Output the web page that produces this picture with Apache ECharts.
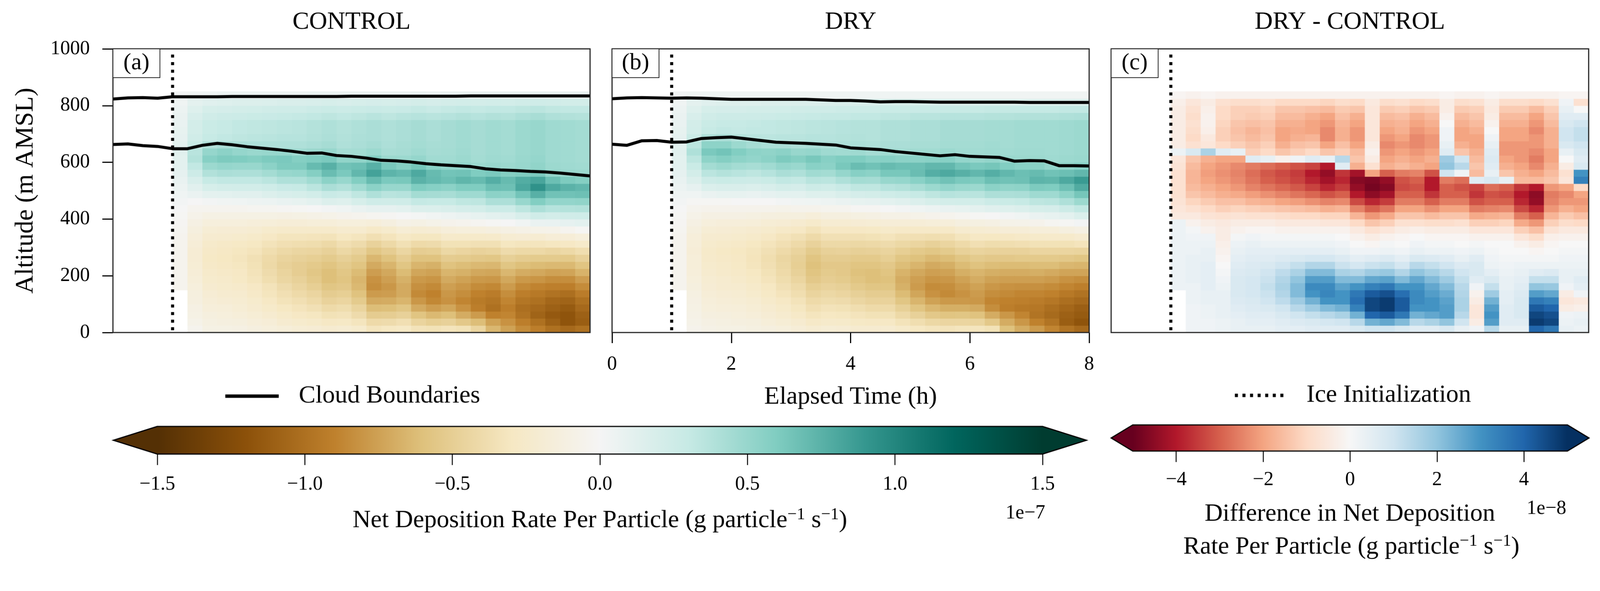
<!DOCTYPE html>
<html><head><meta charset="utf-8">
<script src="https://cdn.jsdelivr.net/npm/echarts@6/dist/echarts.min.js"></script>
<style>html,body{margin:0;padding:0;background:#fff;overflow:hidden}#c{width:4222px;height:1514px;transform-origin:0 0}</style>
</head><body><div id="c"></div>
<script>
// ---- grid of the field (bin centres) ----
const timeBins = [1.125,1.375,1.625,1.875,2.125,2.375,2.625,2.875,3.125,3.375,3.625,3.875,4.125,4.375,4.625,4.875,5.125,5.375,5.625,5.875,6.125,6.375,6.625,6.875,7.125,7.375,7.625,7.875];
const altBins = [12.5,37.5,62.5,87.5,112.5,137.5,162.5,187.5,212.5,237.5,262.5,287.5,312.5,337.5,362.5,387.5,412.5,437.5,462.5,487.5,512.5,537.5,562.5,587.5,612.5,637.5,662.5,687.5,712.5,737.5,762.5,787.5,812.5,837.5];

// ---- CONTROL net deposition rate (units 1e-9 g/particle/s), one array per time bin, bottom -> top ----
const controlCols = [
[null,null,null,null,null,null,-5,-5,-5,-5,-5,-5,-5,-4,-3,-2,-1,0,2,4,6,8,10,12,12,13,12,10,9,8,7,6,4,2],
[-5,-8,-10,-11,-13,-14,-15,-17,-18,-19,-20,-20,-18,-16,-14,-11,-7,-4,0,7,13,19,26,32,38,36,28,24,22,22,19,15,11,3],
[-10,-12,-14,-16,-18,-20,-22,-24,-25,-27,-28,-27,-25,-22,-19,-15,-10,-4,2,11,20,30,39,48,57,51,39,30,28,28,24,20,14,4],
[-10,-13,-15,-17,-20,-22,-24,-25,-27,-29,-30,-29,-27,-23,-20,-15,-10,-4,3,12,22,32,42,51,61,55,42,32,30,30,26,21,15,5],
[-11,-14,-17,-19,-21,-23,-25,-28,-29,-31,-32,-31,-28,-24,-20,-15,-10,-4,4,13,23,32,41,50,60,51,41,34,32,32,27,22,16,5],
[-13,-16,-19,-22,-24,-27,-29,-32,-34,-35,-36,-33,-30,-26,-21,-16,-10,-3,5,13,23,32,41,50,58,49,40,35,33,33,28,23,16,5],
[-15,-18,-22,-26,-29,-32,-34,-38,-40,-42,-41,-38,-34,-29,-24,-17,-10,-3,6,16,25,35,45,55,61,50,40,36,34,34,29,24,17,5],
[-17,-22,-26,-30,-34,-37,-40,-44,-46,-48,-46,-42,-37,-32,-25,-18,-11,-2,8,19,29,40,50,61,62,50,40,37,35,35,30,25,18,5],
[-19,-24,-29,-33,-37,-41,-45,-48,-51,-51,-48,-44,-38,-32,-25,-18,-10,-1,9,20,30,40,51,61,58,46,40,37,36,36,31,25,18,5],
[-20,-26,-31,-36,-41,-45,-50,-54,-56,-54,-50,-45,-39,-33,-25,-17,-9,0,12,23,35,46,58,70,60,48,42,39,38,38,32,27,19,6],
[-22,-29,-35,-41,-47,-52,-57,-61,-61,-58,-53,-48,-42,-34,-25,-17,-8,2,16,29,42,55,69,76,62,50,44,41,40,40,34,28,20,6],
[-21,-28,-34,-39,-45,-50,-55,-58,-56,-53,-49,-43,-37,-30,-23,-15,-6,4,15,27,39,50,62,66,53,44,40,39,38,38,32,27,19,6],
[-24,-32,-40,-46,-53,-59,-64,-66,-63,-58,-53,-47,-40,-32,-23,-15,-5,7,20,33,46,59,72,68,53,45,42,41,40,40,34,28,20,6],
[-32,-41,-52,-62,-71,-78,-84,-82,-77,-71,-65,-56,-47,-37,-27,-16,-3,10,25,40,55,70,84,76,58,48,44,42,42,42,36,29,21,6],
[-30,-40,-51,-61,-70,-77,-80,-76,-72,-66,-59,-51,-42,-33,-24,-13,-2,10,24,36,50,62,74,63,48,43,41,40,40,40,34,28,20,6],
[-28,-37,-48,-57,-66,-71,-71,-68,-63,-57,-51,-44,-36,-28,-19,-9,0,12,25,37,50,63,71,58,48,44,43,42,42,42,36,29,21,6],
[-34,-46,-58,-71,-80,-86,-83,-79,-73,-66,-59,-51,-41,-31,-21,-10,1,16,31,45,60,75,80,64,51,47,45,44,44,44,37,31,22,7],
[-35,-50,-64,-77,-87,-90,-86,-81,-75,-68,-59,-50,-40,-31,-20,-8,3,17,30,44,57,71,70,56,46,44,43,42,42,42,36,29,21,6],
[-33,-48,-61,-73,-82,-80,-76,-71,-66,-59,-52,-43,-35,-25,-16,-6,5,18,30,43,55,68,65,52,46,45,44,44,44,44,37,31,22,7],
[-35,-55,-70,-82,-88,-84,-80,-75,-68,-62,-53,-45,-35,-26,-15,-5,7,21,33,47,60,73,66,52,48,47,46,46,46,46,39,32,23,7],
[-45,-62,-78,-92,-94,-90,-85,-79,-72,-64,-55,-47,-36,-26,-15,-3,9,22,34,47,60,70,60,48,45,44,44,44,44,44,37,31,22,7],
[-65,-75,-90,-100,-97,-93,-87,-80,-73,-65,-56,-46,-36,-25,-13,-1,12,27,41,55,68,77,62,50,47,46,46,46,46,46,39,32,23,7],
[-75,-82,-88,-92,-88,-84,-78,-72,-65,-57,-49,-40,-31,-21,-11,0,14,27,41,54,67,70,58,48,46,45,45,45,45,45,38,32,23,7],
[-85,-92,-99,-101,-97,-92,-86,-79,-70,-61,-52,-42,-32,-20,-9,3,19,34,50,65,81,78,60,50,49,48,48,48,48,48,41,34,24,7],
[-92,-100,-108,-105,-100,-95,-89,-81,-72,-63,-53,-42,-32,-21,-8,7,24,41,59,76,93,82,62,53,51,50,50,50,50,50,43,35,25,8],
[-100,-110,-115,-110,-106,-99,-91,-84,-75,-64,-53,-44,-31,-18,-7,8,22,37,52,66,80,68,52,48,47,47,47,47,47,47,40,33,24,7],
[-105,-118,-118,-114,-108,-101,-92,-84,-74,-64,-54,-42,-29,-18,-4,10,24,38,52,66,75,61,49,47,46,46,46,46,46,46,39,32,23,7],
[-100,-112,-110,-105,-100,-93,-85,-77,-67,-58,-48,-38,-26,-15,-1,12,25,39,53,67,72,58,48,46,45,45,45,45,45,45,38,32,23,7]
];

// ---- DRY net deposition rate (units 1e-9) ----
const dryCols = [
[null,null,null,null,null,null,-5,-5,-5,-5,-5,-5,-5,-4,-3,-2,-1,0,2,4,6,8,10,12,12,13,12,10,9,8,7,6,4,2],
[-6,-8,-9,-10,-11,-12,-14,-15,-16,-17,-17,-18,-17,-16,-14,-11,-8,-5,-1,4,10,16,22,28,34,40,35,28,23,22,19,15,11,3],
[-9,-11,-13,-15,-16,-18,-20,-21,-23,-24,-25,-26,-24,-22,-19,-15,-11,-6,-1,7,17,26,35,45,54,62,54,40,30,28,24,20,14,4],
[-10,-12,-14,-16,-18,-20,-22,-23,-25,-26,-27,-28,-26,-23,-20,-16,-11,-6,-1,9,18,28,38,48,58,65,54,42,32,30,26,21,15,4],
[-10,-13,-15,-17,-19,-21,-23,-25,-27,-28,-29,-30,-27,-24,-21,-16,-11,-6,0,9,18,27,36,45,54,59,48,38,31,30,26,21,15,4],
[-12,-14,-17,-19,-21,-24,-26,-28,-30,-32,-33,-32,-30,-26,-22,-17,-12,-6,0,8,17,26,34,43,52,54,44,36,32,31,26,22,15,4],
[-13,-17,-20,-22,-25,-28,-30,-33,-35,-37,-38,-36,-33,-29,-24,-19,-13,-6,0,10,19,28,37,46,55,53,42,35,32,32,27,22,16,4],
[-15,-19,-23,-26,-29,-33,-36,-39,-41,-43,-44,-41,-37,-33,-27,-20,-14,-7,2,12,22,32,42,51,61,55,42,36,33,33,28,23,16,4],
[-18,-22,-27,-31,-34,-38,-41,-45,-48,-50,-49,-46,-41,-36,-29,-22,-14,-6,3,12,21,31,40,49,58,50,40,36,34,34,29,24,17,4],
[-21,-27,-32,-37,-41,-46,-50,-55,-58,-60,-58,-53,-47,-41,-34,-25,-16,-6,4,15,26,36,46,56,63,51,42,37,35,35,30,25,17,4],
[-19,-25,-30,-34,-39,-43,-47,-51,-53,-55,-52,-48,-42,-36,-29,-21,-13,-5,5,15,25,35,45,55,57,47,40,37,36,36,31,25,18,4],
[-20,-26,-31,-35,-40,-45,-49,-53,-55,-55,-52,-47,-42,-36,-29,-21,-13,-4,7,18,29,40,51,63,60,46,40,38,37,37,31,26,18,4],
[-22,-28,-33,-38,-44,-49,-54,-58,-60,-58,-54,-49,-43,-36,-29,-20,-12,-2,9,21,33,45,57,69,60,47,41,39,38,38,32,27,19,4],
[-22,-29,-35,-41,-47,-52,-57,-61,-61,-58,-54,-48,-42,-35,-28,-19,-11,-2,10,22,33,44,55,66,56,44,40,38,38,38,32,27,19,4],
[-22,-29,-35,-41,-47,-52,-57,-60,-58,-55,-50,-46,-40,-33,-26,-18,-9,0,12,25,37,50,63,70,57,46,42,40,40,40,34,28,20,4],
[-26,-34,-42,-49,-57,-63,-68,-70,-67,-62,-57,-50,-43,-36,-27,-18,-9,2,14,27,39,51,63,68,55,45,42,40,40,40,34,28,20,4],
[-30,-38,-48,-58,-66,-73,-78,-76,-72,-66,-60,-54,-45,-37,-27,-18,-8,4,17,30,43,56,69,68,55,46,43,42,42,42,36,29,20,4],
[-32,-43,-55,-65,-75,-82,-85,-81,-76,-71,-64,-56,-48,-38,-27,-17,-6,6,20,34,48,62,77,72,56,46,43,42,42,42,36,29,19,4],
[-34,-45,-58,-69,-79,-86,-84,-80,-75,-69,-62,-53,-45,-37,-27,-16,-5,8,22,37,52,66,80,72,57,48,45,44,44,44,37,30,19,4],
[-32,-45,-57,-69,-79,-82,-79,-75,-69,-63,-57,-48,-41,-32,-23,-13,-3,9,23,36,49,62,76,65,52,46,45,44,44,44,37,30,18,4],
[-32,-46,-59,-71,-80,-78,-75,-70,-66,-59,-53,-46,-37,-29,-21,-12,-1,11,23,36,48,61,72,62,50,46,45,44,44,44,37,30,17,4],
[-35,-55,-70,-84,-88,-84,-80,-75,-69,-62,-55,-47,-39,-30,-20,-11,0,14,27,41,55,68,77,64,52,47,46,45,45,45,38,31,17,4],
[-60,-70,-80,-92,-90,-86,-82,-76,-70,-63,-55,-47,-38,-29,-18,-8,2,15,28,41,53,66,72,59,49,46,45,45,45,45,38,31,16,3],
[-70,-80,-88,-95,-91,-88,-83,-76,-70,-63,-54,-47,-37,-27,-18,-7,4,17,30,42,54,67,68,56,48,47,46,46,46,46,39,31,16,3],
[-78,-90,-98,-96,-93,-88,-83,-76,-69,-62,-54,-45,-35,-26,-16,-6,7,20,34,47,61,74,70,56,48,47,46,46,46,46,39,31,16,3],
[-88,-98,-104,-101,-96,-90,-85,-78,-71,-62,-54,-45,-35,-25,-16,-3,9,21,35,47,60,73,66,52,47,46,46,46,46,46,39,31,16,3],
[-98,-112,-110,-106,-101,-95,-88,-82,-74,-65,-55,-45,-35,-25,-13,-1,12,26,40,54,67,80,68,53,48,47,47,47,47,47,40,32,16,3],
[-105,-118,-114,-111,-105,-99,-91,-84,-74,-66,-57,-46,-33,-22,-11,2,17,32,48,64,79,88,72,56,49,48,48,48,48,48,41,32,16,3]
];

// ---- DRY - CONTROL difference (units 1e-9) ----
const diffCols = [
[null,null,null,null,null,null,3,3,3,3,3,3,3,3,3,3,-5,-6,-7,-8,-8,-8,-8,-7,-6,3,-4,-4,-4,-4,-4,-4,-3,-1],
[2,2,2,2,3,3,3,4,4,4,4,3,3,2,1,-2,-5,-8,-11,-14,-16,-17,-17,-16,-14,8,-8,-10,-9,-8,-9,-8,-6,-2],
[2,2,3,3,4,4,5,5,5,5,4,4,3,2,-2,-4,-7,-10,-13,-16,-18,-20,-21,-20,-18,16,-6,-5,-3,-2,-2,-3,-4,-1],
[3,3,4,4,4,4,3,2,1,0,-1,-2,-3,-4,-4,-5,-8,-12,-15,-18,-20,-22,-23,-22,-20,6,-10,-12,-12,-11,-10,-10,-8,-2],
[4,4,5,6,7,8,8,8,7,6,5,4,3,1,-2,-4,-7,-11,-15,-19,-22,-24,-25,-24,-20,4,-12,-14,-15,-14,-12,-12,-9,-2],
[4,5,6,7,8,9,9,9,8,7,6,5,4,2,-1,-4,-8,-12,-17,-21,-25,-27,-28,-26,6,-12,-14,-16,-17,-15,-13,-12,-9,-2],
[4,5,6,8,10,11,12,11,10,8,6,5,3,1,-1,-4,-8,-13,-18,-23,-27,-30,-31,-28,4,-10,-12,-14,-15,-14,-12,-11,-8,-2],
[5,6,8,10,13,15,16,15,13,10,7,5,3,1,-2,-5,-9,-14,-20,-25,-29,-32,-33,-30,-2,-14,-18,-20,-20,-18,-16,-14,-10,-2],
[5,7,10,14,18,22,22,20,16,12,8,5,3,1,-2,-5,-10,-15,-21,-27,-31,-34,-35,-32,2,-12,-15,-18,-19,-18,-16,-14,-10,-2],
[6,8,12,18,24,30,32,28,22,15,9,5,3,1,-2,-5,-10,-16,-23,-29,-34,-38,-40,-34,6,-10,-14,-17,-20,-20,-18,-15,-10,-2],
[6,9,14,22,30,33,32,28,22,15,9,5,3,1,-2,-6,-11,-18,-25,-32,-38,-42,-44,-40,4,-14,-20,-24,-24,-22,-20,-16,-11,-2],
[6,10,16,24,30,30,27,22,16,11,7,4,2,0,-2,-6,-11,-17,-24,-30,-35,-38,-36,6,14,-12,-15,-18,-18,-17,-15,-13,-9,-2],
[8,14,24,34,38,36,30,22,15,9,5,2,0,-2,-5,-10,-17,-25,-33,-40,-44,-46,-42,-18,-14,-16,-20,-22,-22,-20,-18,-14,-10,-2],
[10,24,40,46,46,42,34,26,18,11,6,2,-1,-4,-8,-14,-22,-30,-38,-45,-48,-47,-20,-8,-4,-2,-4,-6,-6,-6,-6,-6,-5,-2],
[10,26,42,48,48,44,36,27,19,12,7,3,1,-2,-6,-12,-19,-27,-35,-42,-46,-44,-30,-18,-20,-22,-24,-22,-20,-18,-16,-13,-9,-2],
[8,22,36,42,42,38,30,22,15,9,5,2,0,-1,-4,-8,-14,-20,-26,-30,-33,-32,-26,-16,-18,-20,-22,-20,-18,-17,-15,-12,-8,-2],
[6,14,24,30,32,32,30,26,20,14,8,4,2,0,-3,-8,-14,-20,-26,-30,-32,-30,-25,-18,-20,-22,-24,-24,-22,-20,-18,-14,-10,-2],
[6,16,26,30,30,28,26,22,17,12,7,3,1,-1,-4,-9,-16,-23,-30,-36,-40,-40,-32,-20,-18,-20,-22,-22,-20,-18,-16,-13,-9,-2],
[8,20,28,28,27,25,22,18,14,10,6,3,1,-1,-4,-9,-14,-20,-26,-30,-30,-26,10,20,18,6,4,2,2,0,-2,-4,-4,-1],
[4,10,14,16,16,15,14,12,10,7,4,2,0,-1,-4,-8,-14,-20,-26,-30,-32,-28,2,14,10,-14,-18,-20,-20,-18,-16,-13,-9,-2],
[2,-4,-6,-6,-4,-2,2,6,8,8,6,3,1,-2,-6,-12,-19,-26,-32,-36,-34,6,-16,-14,-16,-18,-20,-20,-18,-16,-14,-12,-8,-2],
[14,28,30,28,24,18,12,8,5,3,2,1,0,-2,-6,-12,-18,-25,-30,-32,-28,8,4,6,7,6,4,2,0,-2,-4,-5,-4,-1],
[4,6,6,6,5,5,4,4,3,2,1,0,0,-2,-6,-11,-17,-24,-30,-33,-30,4,-14,-18,-20,-22,-22,-20,-20,-18,-16,-13,-9,-2],
[4,6,8,8,8,7,6,5,4,3,1,0,-2,-6,-12,-19,-26,-33,-38,-40,-36,-16,-18,-20,-22,-22,-22,-20,-20,-18,-16,-13,-9,-2],
[40,48,46,42,36,28,20,12,6,3,1,-1,-4,-9,-15,-22,-30,-38,-44,-45,-40,-16,-20,-24,-26,-24,-22,-22,-24,-22,-20,-16,-10,-2],
[36,46,44,40,34,26,19,12,7,3,1,0,-1,-3,-7,-12,-17,-22,-25,-26,-22,-14,-16,-18,-20,-20,-18,-18,-18,-16,-14,-12,-8,-2],
[4,3,2,-4,-6,-4,2,4,4,3,2,1,0,-2,-5,-9,-13,-18,-22,-24,-20,-6,-8,-4,0,4,8,10,10,8,6,4,2,-1],
[3,4,3,-3,-5,2,5,6,4,3,2,1,0,-2,-5,-10,-15,-20,-22,-20,-10,34,30,8,6,8,10,12,12,10,6,0,-8,-1]
];

// ---- cloud boundaries (m AMSL) every 0.25 h ----
const lineTimes = [0,0.25,0.5,0.75,1,1.25,1.5,1.75,2,2.25,2.5,2.75,3,3.25,3.5,3.75,4,4.25,4.5,4.75,5,5.25,5.5,5.75,6,6.25,6.5,6.75,7,7.25,7.5,7.75,8];
const controlTop  = [823,827,828,826,831,831,831,831,832,832,832,832,832,832,832,832,833,833,833,833,833,833,833,833,834,834,834,834,834,834,834,834,834];
const controlBase = [663,665,659,656,648,648,660,667,662,655,650,645,639,632,633,624,621,615,607,605,601,595,591,588,585,577,573,571,568,566,562,557,552];
const dryTop      = [824,827,828,827,826,827,826,824,822,822,822,822,822,822,820,818,818,816,813,814,814,813,812,812,812,812,812,812,811,811,811,811,811];
const dryBase     = [664,660,676,677,671,672,684,687,689,683,677,671,669,667,664,661,651,648,645,638,633,628,623,627,621,619,617,604,606,605,588,588,587];
const iceInitTime = 1;
const iceLineTop = 980;

// ---- axes / colourbar ticks ----
const altTicks = [0,200,400,600,800,1000];
const timeTicks = [0,2,4,6,8];
const rateTicks = [-1.5,-1.0,-0.5,0,0.5,1.0,1.5];
const diffTicks = [-4,-2,0,2,4];
const panelTitles = ['CONTROL','DRY','DRY - CONTROL'];
const panelTags = ['(a)','(b)','(c)'];

const BrBG = ['#543005','#8c510a','#bf812d','#dfc27d','#f6e8c3','#f5f5f5','#c7eae5','#80cdc1','#35978f','#01665e','#003c30'];
const RdBuR = ['#67001f','#b2182b','#d6604d','#f4a582','#fddbc7','#f7f7f7','#d1e5f0','#92c5de','#4393c3','#2166ac','#053061'];

const FONT = 'Liberation Serif';
const halfT = (timeBins[1]-timeBins[0])/2, halfA = (altBins[1]-altBins[0])/2;

// fit the 4222x1514 design into whatever viewport we get
const el = document.getElementById('c');
const fit = Math.min(window.innerWidth/4222, window.innerHeight/1514);
if (fit > 0 && Math.abs(fit-1) > 0.002) el.style.transform = 'scale(' + fit + ')';

function cells(cols){
  const out = [];
  cols.forEach((col,i)=>col.forEach((v,j)=>{ if(v!==null) out.push([timeBins[i], altBins[j], v]); }));
  return out;
}
function pairs(xs, ys){ return xs.map((x,i)=>[x, ys[i]]); }

function cellItem(params, api){
  const t = api.value(0), a = api.value(1);
  const p0 = api.coord([t-halfT, a+halfA]);
  const p1 = api.coord([t+halfT, a-halfA]);
  return {type:'rect', shape:{x:p0[0], y:p0[1], width:p1[0]-p0[0]+0.8, height:p1[1]-p0[1]+0.8},
          style:{fill: api.visual('color')}};
}
function colorbarItem(stops, ext){
  return function(params, api){
    const lo = api.value(0), hi = api.value(1);
    const a = api.coord([lo, 1]), b = api.coord([hi, 0]);
    const L = api.coord([lo-ext, 0.5]), R = api.coord([hi+ext, 0.5]);
    const top = a[1], bot = b[1], mid = (top+bot)/2;
    const grad = new echarts.graphic.LinearGradient(0,0,1,0, stops.map((c,i)=>({offset:i/(stops.length-1), color:c})));
    return {type:'group', children:[
      {type:'polygon', shape:{points:[[a[0]+1,top],[L[0],mid],[a[0]+1,bot]]}, style:{fill:stops[0]}},
      {type:'polygon', shape:{points:[[b[0]-1,top],[R[0],mid],[b[0]-1,bot]]}, style:{fill:stops[stops.length-1]}},
      {type:'rect', shape:{x:a[0], y:top, width:b[0]-a[0], height:bot-top}, style:{fill:grad}},
      {type:'polygon', shape:{points:[[a[0],top],[L[0],mid],[a[0],bot],[b[0],bot],[R[0],mid],[b[0],top]]},
       style:{fill:'none', stroke:'#000', lineWidth:3}}
    ]};
  };
}
const minus = s => String(s).replace('-', '\u2212');

const panelLeft = [298, 1615, 2932], panelW = [1259, 1259, 1260], panelTop = 129, panelH = 749;

const grids = panelLeft.map((l,i)=>({left:l, top:panelTop, width:panelW[i], height:panelH, show:true,
  borderColor:'#222', borderWidth:3, backgroundColor:'transparent', z:5}));
grids.push({left:415, top:1126, width:2336, height:73});
grids.push({left:2989, top:1122, width:1147, height:69});

const hidden = {axisLine:{show:false}, axisTick:{show:false}, axisLabel:{show:false}, splitLine:{show:false}};
const tickLab = {color:'#000', fontFamily:FONT, fontSize:52};

const xAxes = [
  Object.assign({type:'value', gridIndex:0, min:0, max:8}, hidden),
  {type:'value', gridIndex:1, min:timeTicks[0], max:timeTicks[timeTicks.length-1], interval:2,
   axisLine:{show:false}, splitLine:{show:false},
   axisTick:{show:true, length:28, lineStyle:{color:'#000', width:3}},
   axisLabel:Object.assign({margin:58, formatter:v=>String(v)}, tickLab),
   name:'Elapsed Time (h)', nameLocation:'middle', nameGap:138,
   nameTextStyle:{color:'#000', fontFamily:FONT, fontSize:66}},
  Object.assign({type:'value', gridIndex:2, min:0, max:8}, hidden),
  {type:'value', gridIndex:3, min:rateTicks[0], max:rateTicks[rateTicks.length-1], interval:0.5,
   axisLine:{show:false}, splitLine:{show:false},
   axisTick:{show:true, length:29, lineStyle:{color:'#000', width:2.5}},
   axisLabel:Object.assign({margin:54, formatter:v=>minus(v.toFixed(1))}, tickLab)},
  {type:'value', gridIndex:4, min:-5, max:5,
   axisLine:{show:false}, splitLine:{show:false},
   axisTick:{show:true, length:29, customValues:diffTicks, lineStyle:{color:'#000', width:2.5}},
   axisLabel:Object.assign({margin:50, customValues:diffTicks, formatter:v=>minus(v)}, tickLab)}
];
const yAxes = [
  {type:'value', gridIndex:0, min:altTicks[0], max:altTicks[altTicks.length-1], interval:200,
   axisLine:{show:false}, splitLine:{show:false},
   axisTick:{show:true, length:28, lineStyle:{color:'#000', width:3}},
   axisLabel:Object.assign({margin:61, formatter:v=>String(v)}, tickLab),
   name:'Altitude (m AMSL)', nameLocation:'middle', nameGap:196, nameRotate:90,
   nameTextStyle:{color:'#000', fontFamily:FONT, fontSize:68}},
  Object.assign({type:'value', gridIndex:1, min:0, max:1000}, hidden),
  Object.assign({type:'value', gridIndex:2, min:0, max:1000}, hidden),
  Object.assign({type:'value', gridIndex:3, min:0, max:1}, hidden),
  Object.assign({type:'value', gridIndex:4, min:0, max:1}, hidden)
];

const fieldSeries = [controlCols, dryCols, diffCols].map((cols,i)=>({
  type:'custom', xAxisIndex:i, yAxisIndex:i, renderItem:cellItem, clip:true, z:1,
  dimensions:['t','alt','v'], encode:{x:0, y:1}, data:cells(cols), silent:true
}));
const boundaryStyle = {color:'#000', width:8};
function boundary(i, ys){
  return {type:'line', name:'Cloud Boundaries', xAxisIndex:i, yAxisIndex:i, data:pairs(lineTimes, ys),
    symbol:'none', lineStyle:boundaryStyle, itemStyle:{color:'#000'}, z:4, silent:true};
}
function iceLine(i){
  return {type:'line', name:'Ice Initialization', xAxisIndex:i, yAxisIndex:i,
    data:[[iceInitTime, iceLineTop],[iceInitTime, 0]], symbol:'none',
    lineStyle:{color:'#000', width:8, type:[8,12], cap:'butt'}, itemStyle:{color:'#000'}, z:4, silent:true};
}
const series = fieldSeries.concat([
  boundary(0, controlTop), boundary(0, controlBase), boundary(1, dryTop), boundary(1, dryBase),
  iceLine(0), iceLine(1), iceLine(2),
  {type:'custom', xAxisIndex:3, yAxisIndex:3, renderItem:colorbarItem(BrBG, 0.149), silent:true,
   data:[[rateTicks[0], rateTicks[rateTicks.length-1]]], z:3},
  {type:'custom', xAxisIndex:4, yAxisIndex:4, renderItem:colorbarItem(RdBuR, 0.497), silent:true,
   data:[[-5, 5]], z:3}
]);

const textStyle = (size)=>({fill:'#000', fontFamily:FONT, fontSize:size});
const graphics = [];
panelTitles.forEach((t,i)=>{
  const cx = panelLeft[i] + panelW[i]/2;
  graphics.push({type:'text', x:cx, y:59, z:20, style:Object.assign({text:t, align:'center', verticalAlign:'middle'}, textStyle(66))});
});
panelTags.forEach((t,i)=>{
  graphics.push({type:'rect', x:panelLeft[i], y:panelTop, z:20, shape:{width:124, height:76},
    style:{fill:'#fff', stroke:'#222', lineWidth:2}});
  graphics.push({type:'text', x:panelLeft[i]+62, y:panelTop+38, z:21,
    style:Object.assign({text:t, align:'center', verticalAlign:'middle'}, textStyle(62))});
});
const sup = {s:{fontSize:44, fontFamily:FONT, fill:'#000', lineHeight:44, verticalAlign:'top'}};
graphics.push({type:'text', x:1583, y:1375, z:20, style:Object.assign({
  text:'Net Deposition Rate Per Particle (g particle{s|\u22121} s{s|\u22121})', rich:sup, lineHeight:76,
  align:'center', verticalAlign:'middle'}, textStyle(66))});
graphics.push({type:'text', x:3562, y:1358, z:20, style:Object.assign({
  text:'Difference in Net Deposition', align:'center', verticalAlign:'middle'}, textStyle(66))});
graphics.push({type:'text', x:3566, y:1445, z:20, style:Object.assign({
  text:'Rate Per Particle (g particle{s|\u22121} s{s|\u22121})', rich:sup, lineHeight:76,
  align:'center', verticalAlign:'middle'}, textStyle(66))});
graphics.push({type:'text', x:2758, y:1355, z:20, style:Object.assign({text:'1e\u22127', align:'right', verticalAlign:'middle'}, textStyle(52))});
graphics.push({type:'text', x:4133, y:1343, z:20, style:Object.assign({text:'1e\u22128', align:'right', verticalAlign:'middle'}, textStyle(52))});

const chart = echarts.init(el, null, {renderer:'canvas', width:4222, height:1514});
chart.setOption({
  animation:false,
  backgroundColor:'#fff',
  grid:grids,
  xAxis:xAxes,
  yAxis:yAxes,
  visualMap:[
    {type:'continuous', show:false, seriesIndex:[0,1], dimension:2, min:-150, max:150, inRange:{color:BrBG}},
    {type:'continuous', show:false, seriesIndex:[2], dimension:2, min:-50, max:50, inRange:{color:RdBuR}}
  ],
  legend:[
    {data:['Cloud Boundaries'], left:585, top:1008, itemWidth:141, itemHeight:20, selectedMode:false,
     lineStyle:{width:9}, itemStyle:{opacity:0},
     textStyle:{color:'#000', fontFamily:FONT, fontSize:66, padding:[0,0,0,48]}},
    {data:['Ice Initialization'], left:3249, top:1006, itemWidth:132, itemHeight:20, selectedMode:false,
     lineStyle:{width:9, type:[8,12]}, itemStyle:{opacity:0},
     textStyle:{color:'#000', fontFamily:FONT, fontSize:66, padding:[0,0,0,52]}}
  ],
  graphic:graphics,
  series:series
});
</script></body></html>
